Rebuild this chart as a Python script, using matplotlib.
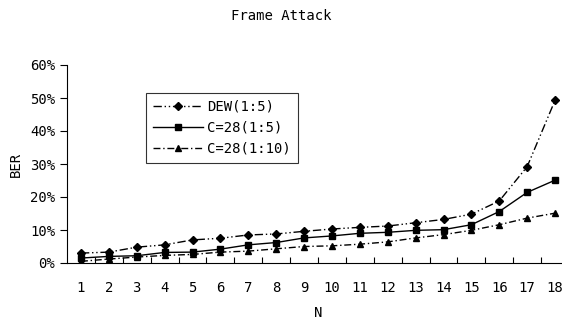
import matplotlib
matplotlib.use("Agg")
import matplotlib.pyplot as plt
from matplotlib.ticker import FuncFormatter, FixedLocator, NullFormatter

plt.rcParams['font.family'] = ['DejaVu Sans Mono']

N = list(range(1, 19))
dew = [3.0, 3.3, 4.8, 5.5, 7.0, 7.5, 8.5, 8.8, 9.6, 10.3, 10.8, 11.2, 12.2, 13.2, 14.8, 18.8, 29.2, 49.3]
c28_5 = [1.5, 2.0, 2.2, 3.2, 3.3, 4.2, 5.5, 6.2, 7.6, 8.2, 9.0, 9.3, 9.9, 10.1, 11.6, 15.6, 21.4, 25.1]
c28_10 = [0.5, 1.2, 1.8, 2.3, 2.6, 3.3, 3.6, 4.3, 5.0, 5.2, 5.7, 6.4, 7.6, 8.6, 9.9, 11.6, 13.6, 15.1]
labels = ['DEW(1:5)', 'C=28(1:5)', 'C=28(1:10)']
yticks = [0, 10, 20, 30, 40, 50, 60]

fig = plt.figure(figsize=(5.62, 3.2), dpi=100)
ax = fig.add_axes([67/562, 1-263/320, (569-67)/562, (263-65)/320])

ax.plot(N, dew, color='black', lw=1.0, ls=(0, (6, 2, 1, 2, 1, 2)), marker='D', ms=4, label=labels[0])
ax.plot(N, c28_5, color='black', lw=1.0, ls='-', marker='s', ms=4.5, label=labels[1])
ax.plot(N, c28_10, color='black', lw=1.0, ls=(0, (5, 2, 1, 2)), marker='^', ms=5, label=labels[2])

ax.set_xlim(0.5, 18.5)
ax.set_ylim(0, 60)
ax.set_yticks(yticks)
ax.yaxis.set_major_formatter(FuncFormatter(lambda v, p: f"{int(v)}%"))
ax.set_xticks(N)
ax.tick_params(axis='x', which='major', length=0, pad=13, labelsize=10)
ax.xaxis.set_minor_locator(FixedLocator([i + 0.5 for i in range(1, 18)]))
ax.xaxis.set_minor_formatter(NullFormatter())
ax.tick_params(axis='x', which='minor', direction='in', length=4, width=0.8)
ax.tick_params(axis='y', direction='out', length=5, width=0.8, labelsize=10)
for s in ['top', 'right']:
    ax.spines[s].set_visible(False)
ax.spines['left'].set_linewidth(0.8)
ax.spines['bottom'].set_linewidth(0.8)

ax.set_xlabel('N', fontsize=10, labelpad=8)
ax.set_ylabel('BER', fontsize=10, labelpad=5)
fig.text(0.5, 1-16/320, 'Frame Attack', ha='center', va='center', fontsize=10)

leg = ax.legend(loc='upper left', bbox_to_anchor=((146-67)/502, 1-(93-65)/198), borderaxespad=0,
                frameon=True, fancybox=False, edgecolor='black', fontsize=10, handlelength=3.6,
                borderpad=0.5, labelspacing=0.5, handletextpad=0.3)
leg.get_frame().set_linewidth(0.8)

fig.savefig('out.png', dpi=100)
